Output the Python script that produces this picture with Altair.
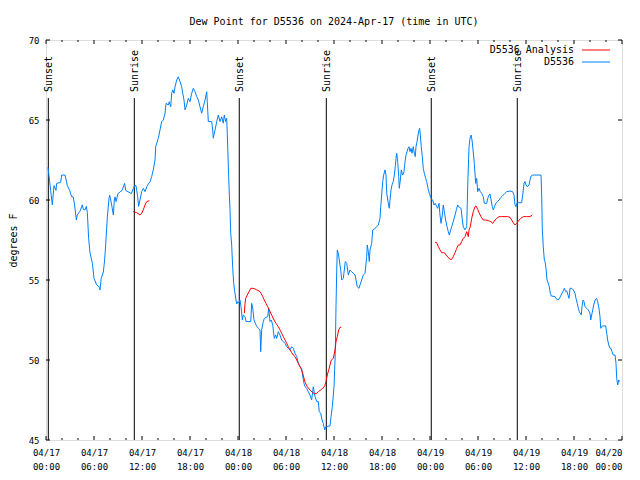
import altair as alt
import pandas as pd

FONT = "DejaVu Sans Mono"
TITLE = "Dew Point for D5536 on 2024-Apr-17 (time in UTC)"

# hours since 2024-04-17 00:00 UTC
blue_hours = [0.25, 0.46, 0.58, 0.79, 1.0, 1.25, 1.33, 1.83, 1.96, 2.38, 2.67, 2.96, 3.2, 3.4, 3.54, 3.8, 3.9, 4.25, 4.54, 4.67,
              4.9, 5.04, 5.17, 5.33, 5.5, 5.8, 6.0, 6.33, 6.63, 6.75, 6.9, 7.17, 7.33, 7.46, 7.67, 7.88, 7.96, 8.17, 8.42, 8.54,
              8.63, 8.75, 9.0, 9.5, 9.83, 9.96, 10.67, 10.9, 11.08, 11.25, 11.46, 11.58, 11.96, 12.16, 12.38, 12.59, 12.79, 13.0, 13.21, 13.41,
              13.63, 13.71, 14.04, 14.25, 14.46, 14.66, 14.88, 15.0, 15.29, 15.41, 15.59, 15.71, 15.84, 16.0, 16.13, 16.34, 16.54, 16.75, 16.96, 17.09,
              17.25, 17.38, 17.59, 17.79, 18.0, 18.21, 18.41, 18.63, 18.84, 19.04, 19.25, 19.46, 19.66, 19.88, 20.09, 20.16, 20.29, 20.71, 20.84, 20.91,
              21.13, 21.34, 21.54, 21.75, 21.96, 22.16, 22.29, 22.46, 22.59, 22.66, 22.79, 22.91, 23.0, 23.09, 23.21, 23.34, 23.46, 23.59, 23.75, 23.84,
              23.96, 24.13, 24.25, 24.38, 24.54, 24.66, 24.88, 25.0, 25.59, 25.71, 25.84, 26.0, 26.25, 26.54, 26.75, 26.84, 26.96, 27.16, 27.29, 27.71,
              27.84, 28.0, 28.16, 28.34, 28.41, 28.54, 28.71, 28.84, 29.04, 29.25, 29.46, 29.66, 29.88, 30.09, 30.29, 30.5, 30.71, 30.91, 31.13, 31.34,
              31.54, 31.75, 31.96, 32.09, 32.25, 32.38, 32.59, 32.79, 33.0, 33.21, 33.41, 33.63, 33.84, 34.04, 34.16, 34.34, 34.5, 34.66, 34.84, 34.96,
              35.5, 35.63, 35.79, 36.0, 36.16, 36.25, 36.34, 36.41, 36.54, 36.66, 36.84, 36.96, 37.16, 37.29, 37.41, 37.59, 37.79, 38.0, 38.21, 38.63,
              38.75, 38.91, 39.13, 39.25, 39.46, 39.66, 39.88, 40.09, 40.16, 40.29, 40.41, 40.5, 40.71, 40.84, 41.04, 41.34, 41.54, 41.75, 41.84, 41.96,
              42.09, 42.21, 42.38, 42.5, 42.59, 42.79, 42.91, 43.0, 43.13, 43.25, 43.41, 43.54, 43.66, 43.75, 43.84, 43.96, 44.09, 44.16, 44.29, 44.41,
              44.59, 44.75, 44.88, 45.0, 45.13, 45.25, 45.38, 45.5, 45.63, 45.75, 45.91, 46.04, 46.16, 46.25, 46.38, 46.5, 46.63, 46.71, 46.79, 46.91,
              47.04, 47.16, 47.29, 47.46, 47.59, 47.75, 47.91, 48.13, 48.34, 48.5, 48.66, 48.84, 48.96, 49.13, 49.25, 49.38, 49.54, 49.66, 49.79, 49.96,
              50.13, 50.29, 50.41, 50.59, 50.71, 50.91, 51.13, 51.34, 51.46, 51.66, 51.88, 52.04, 52.16, 52.38, 52.59, 52.66, 52.75, 52.88, 53.0, 53.13,
              53.25, 53.38, 53.54, 53.71, 53.84, 53.96, 54.13, 54.29, 54.46, 54.66, 54.79, 55.09, 55.21, 55.38, 55.5, 55.63, 55.79, 55.91, 56.04, 56.21,
              56.46, 56.63, 56.88, 57.04, 57.38, 57.59, 58.0, 58.34, 58.5, 58.63, 58.75, 58.91, 59.46, 59.59, 59.75, 59.88, 60.0, 60.16, 60.38, 60.5,
              60.63, 60.84, 61.88, 61.96, 62.04, 62.16, 62.29, 62.38, 62.5, 62.63, 62.79, 62.91, 63.04, 63.16, 63.63, 63.84, 64.04, 64.25, 64.46, 64.66,
              64.79, 64.96, 65.09, 65.25, 65.38, 65.5, 65.71, 65.91, 66.13, 66.25, 66.41, 66.54, 66.66, 66.91, 67.0, 67.13, 67.25, 67.38, 67.59, 67.79,
              68.0, 68.09, 68.21, 68.34, 68.46, 68.63, 68.84, 68.96, 69.09, 69.25, 69.34, 69.54, 69.96, 70.09, 70.21, 70.34, 70.5, 70.63, 70.75, 70.91,
              71.13, 71.25, 71.34, 71.46, 71.59, 71.71]
blue_dewpt = [62.04, 61.15, 60.6, 59.7, 60.9, 60.6, 61.04, 61.1, 61.56, 61.56, 60.9, 60.6, 60.2, 60.2, 59.8, 58.75, 59.06, 59.3, 59.7, 59.4,
              59.4, 59.6, 59.2, 57.6, 56.7, 56.04, 55.1, 54.7, 54.58, 54.38, 55.1, 55.5, 56.25, 57.2, 58.96, 60.1, 60.3, 59.8, 59.06, 60.0,
              60.2, 59.9, 60.4, 60.6, 61.04, 60.6, 60.4, 60.7, 60.9, 60.9, 60.2, 59.6, 60.52, 60.73, 60.52, 60.83, 61.0, 61.14, 61.46, 61.88,
              62.5, 63.33, 63.86, 64.38, 64.9, 65.0, 65.42, 66.04, 65.94, 66.14, 65.83, 66.67, 66.88, 66.67, 67.08, 67.5, 67.7, 67.4, 67.08, 66.67,
              66.25, 65.63, 65.94, 66.35, 66.14, 66.67, 66.98, 66.77, 66.46, 66.25, 65.83, 65.42, 65.83, 66.25, 66.77, 66.14, 64.9, 64.9, 64.38, 63.86,
              64.38, 64.9, 65.31, 64.9, 65.2, 64.8, 65.31, 64.9, 65.1, 64.17, 62.08, 60.42, 59.38, 57.92, 57.19, 55.73, 54.79, 54.27, 53.75, 53.5,
              53.64, 53.58, 53.75, 53.33, 52.5, 52.81, 52.71, 52.4, 52.4, 53.54, 53.23, 52.5, 52.19, 51.98, 51.88, 50.52, 51.88, 52.4, 52.6, 52.71,
              53.23, 52.4, 52.5, 52.19, 51.88, 51.35, 51.56, 51.35, 51.77, 51.56, 51.25, 51.15, 51.04, 50.83, 50.73, 50.63, 50.83, 50.73, 50.42, 50.21,
              49.79, 49.58, 49.48, 48.96, 48.54, 48.33, 48.23, 48.02, 47.81, 47.5, 48.33, 47.71, 47.4, 47.4, 46.77, 46.67, 46.25, 46.04, 45.63, 45.83,
              45.88, 46.46, 47.08, 48.33, 50.42, 53.33, 55.63, 56.88, 56.67, 56.25, 55.63, 55.0, 55.1, 55.63, 56.15, 56.04, 55.31, 55.63, 55.52, 55.31,
              55.0, 54.58, 54.48, 54.69, 55.0, 55.31, 55.42, 56.46, 57.19, 56.77, 56.15, 56.88, 57.29, 58.13, 58.19, 58.33, 58.44, 58.85, 59.58, 60.31,
              61.15, 61.56, 61.88, 61.56, 60.42, 59.79, 59.48, 60.0, 60.63, 60.94, 61.15, 61.56, 62.08, 62.6, 62.92, 62.4, 61.46, 60.73, 61.25, 61.88,
              61.56, 61.77, 62.4, 62.81, 63.02, 63.23, 63.33, 63.02, 63.23, 62.92, 63.33, 62.92, 62.71, 63.33, 63.65, 64.06, 64.38, 64.48, 64.06, 63.33,
              62.71, 61.98, 61.67, 61.35, 61.15, 60.73, 60.42, 60.1, 60.0, 59.69, 59.79, 59.58, 59.48, 59.79, 59.06, 58.54, 59.06, 59.69, 59.27, 58.75,
              58.33, 58.02, 57.81, 58.13, 58.33, 58.65, 59.06, 59.48, 59.69, 59.54, 59.48, 58.75, 58.33, 58.13, 58.33, 59.79, 61.46, 63.33, 63.86, 64.06,
              63.75, 63.13, 62.29, 61.04, 61.35, 60.52, 60.73, 60.52, 60.42, 60.21, 59.79, 59.79, 60.1, 60.31, 60.38, 60.0, 59.58, 59.38, 59.54, 59.79,
              59.9, 60.0, 60.17, 60.25, 60.42, 60.52, 60.56, 60.52, 60.31, 59.69, 59.58, 59.83, 59.83, 60.31, 61.04, 61.15, 60.94, 60.83, 60.94, 61.25,
              61.5, 61.56, 61.56, 60.31, 58.13, 57.08, 56.25, 56.15, 55.73, 55.0, 54.79, 54.58, 54.17, 54.0, 53.96, 53.79, 53.75, 53.92, 54.13, 54.33,
              54.48, 54.27, 54.33, 54.06, 53.85, 54.48, 54.48, 54.38, 54.17, 53.85, 53.54, 53.23, 53.02, 52.81, 53.33, 53.75, 53.65, 53.33, 53.23, 53.13,
              52.92, 52.5, 52.81, 53.13, 53.44, 53.75, 53.85, 53.65, 53.33, 52.71, 51.98, 52.13, 52.13, 51.67, 51.25, 50.94, 50.73, 50.73, 50.52, 50.31,
              50.31, 49.79, 48.85, 48.44, 48.75, 48.65]

red_hours = [10.91, 11.34, 11.75, 11.96, 12.16, 12.38, 12.59, 12.91,
             24.79, 24.88, 24.96, 25.16, 25.38, 25.59, 25.84, 26.13, 26.34, 26.66, 26.88, 27.09, 27.29, 27.5, 27.71, 27.91,
             28.21, 28.5, 28.75, 29.04, 29.25, 29.46, 29.66, 29.88, 30.09, 30.29, 30.5, 30.71, 30.91, 31.13, 31.34, 31.54,
             31.75, 31.96, 32.09, 32.25, 32.41, 32.66, 33.0, 33.34, 33.63, 33.84, 34.04, 34.34, 34.59, 34.84, 35.0, 35.16,
             35.34, 35.5, 35.66, 35.91, 36.13, 36.25, 36.41, 36.59, 36.75, 36.91,
             48.63, 48.84, 49.04, 49.25, 49.46, 49.66, 49.88, 50.09, 50.29, 50.5, 50.71, 50.91, 51.13, 51.34, 51.54, 51.75,
             51.96, 52.16, 52.38, 52.59, 52.79, 52.88, 53.04, 53.21, 53.41, 53.63, 53.75, 53.96, 54.13, 54.38, 54.66, 54.96,
             55.29, 55.59, 55.84, 56.13, 56.34, 56.63, 56.96, 57.38, 57.71, 58.0, 58.21, 58.41, 58.63, 58.84, 59.04, 59.34,
             59.66, 60.09, 60.5, 60.79]
red_dewpt = [59.27, 59.21, 59.06, 59.17, 59.38, 59.69, 59.9, 59.96,
             52.92, 53.54, 53.85, 54.06, 54.27, 54.48, 54.48, 54.44, 54.38, 54.31, 54.17, 53.96, 53.75, 53.54, 53.33, 53.13,
             52.81, 52.5, 52.29, 52.08, 51.88, 51.67, 51.46, 51.25, 51.04, 50.83, 50.63, 50.46, 50.31, 50.21, 50.0, 49.79,
             49.58, 49.38, 49.17, 48.85, 48.58, 48.33, 48.13, 47.96, 47.88, 47.92, 48.02, 48.13, 48.23, 48.38, 48.65, 49.06,
             49.38, 49.69, 50.0, 50.1, 50.63, 51.15, 51.46, 51.88, 52.04, 52.04,
             57.36, 57.33, 57.08, 56.88, 56.71, 56.71, 56.67, 56.5, 56.42, 56.29, 56.29, 56.46, 56.71, 56.98, 57.19, 57.19,
             57.4, 57.6, 57.71, 58.02, 57.71, 58.13, 58.33, 58.85, 59.27, 59.58, 59.63, 59.42, 59.21, 58.96, 58.75, 58.75,
             58.71, 58.65, 58.54, 58.75, 58.85, 58.96, 58.96, 58.96, 58.96, 58.92, 58.75, 58.58, 58.44, 58.54, 58.69, 58.85,
             58.96, 58.96, 58.96, 59.06]
red_segment = [1] * 8 + [2] * 58 + [3] * 52

sun_hours = [0.29, 11.04, 24.16, 35.04, 48.16, 58.91]
sun_labels = ["Sunset", "Sunrise", "Sunset", "Sunrise", "Sunset", "Sunrise"]

x_label_hours = [0, 6, 12, 18, 24, 30, 36, 42, 48, 54, 60, 66, 72]
x_tick_hours = list(range(0, 73, 2))
y_ticks = [45, 50, 55, 60, 65, 70]

legend_labels = ["D5536 Analysis", "D5536"]
legend_colors = ["#ff0000", "#0080ff"]

W, H = 576, 400

blue_df = pd.DataFrame({"h": blue_hours, "v": blue_dewpt, "i": range(len(blue_hours))})
red_df = pd.DataFrame({"h": red_hours, "v": red_dewpt, "seg": red_segment[:len(red_hours)], "i": range(len(red_hours))})
sun_df = pd.DataFrame({"h": sun_hours, "label": sun_labels})
xt_df = pd.DataFrame({"h": x_tick_hours, "major": [h % 6 == 0 for h in x_tick_hours]})
yt_df = pd.DataFrame({"v": y_ticks})

xscale = alt.Scale(domain=[0, 72], nice=False, zero=False)
yscale = alt.Scale(domain=[45, 70], nice=False, zero=False)

label_expr = ("['04/' + (17 + floor(datum.value / 24)), "
              "(datum.value % 24 < 10 ? '0' : '') + (datum.value % 24) + ':00']")

xaxis = alt.Axis(values=x_label_hours, labelExpr=label_expr, ticks=False, domain=False, grid=False,
                 labelFont=FONT, labelFontSize=9, labelPadding=8, labelLineHeight=14,
                 labelAlign=alt.condition("datum.value >= 72", alt.value("right"), alt.value("center")),
                 labelBaseline="top", labelFlush=False, labelOverlap=False, labelColor="black", title=None)
yaxis = alt.Axis(values=y_ticks, ticks=False, domain=False, grid=False, labelFont=FONT, labelFontSize=9,
                 labelPadding=7, labelColor="black", title="degrees F", titleFont=FONT, titleFontSize=10,
                 titleFontWeight="normal", titleX=-33, titleY=200, titleAngle=270, titleAlign="center",
                 titleBaseline="middle", titleColor="black")

sun_rules = alt.Chart(sun_df).mark_rule(color="black", strokeWidth=1).encode(
    x=alt.X("h:Q", scale=xscale, axis=xaxis), y=alt.value(58), y2=alt.value(H))
sun_text = alt.Chart(sun_df).mark_text(angle=270, align="left", baseline="middle", font=FONT,
                                       fontSize=10, color="black", dx=0, dy=1).encode(
    x=alt.X("h:Q", scale=xscale), y=alt.value(52), text="label:N")

blue = alt.Chart(blue_df).mark_line(color="#0080ff", strokeWidth=1).encode(
    x=alt.X("h:Q", scale=xscale), y=alt.Y("v:Q", scale=yscale, axis=yaxis), order="i:Q")
red = alt.Chart(red_df).mark_line(color="#ff0000", strokeWidth=1).encode(
    x=alt.X("h:Q", scale=xscale), y=alt.Y("v:Q", scale=yscale), detail="seg:N", order="i:Q")

xt_major = xt_df[xt_df["major"]]
xt_minor = xt_df[~xt_df["major"]]
ticks = [
    alt.Chart(xt_major).mark_rule(color="black").encode(x=alt.X("h:Q", scale=xscale), y=alt.value(H - 4), y2=alt.value(H)),
    alt.Chart(xt_minor).mark_rule(color="black").encode(x=alt.X("h:Q", scale=xscale), y=alt.value(H - 2), y2=alt.value(H)),
    alt.Chart(xt_major).mark_rule(color="black").encode(x=alt.X("h:Q", scale=xscale), y=alt.value(0), y2=alt.value(4)),
    alt.Chart(xt_minor).mark_rule(color="black").encode(x=alt.X("h:Q", scale=xscale), y=alt.value(0), y2=alt.value(2)),
    alt.Chart(yt_df).mark_rule(color="black").encode(y=alt.Y("v:Q", scale=yscale), x=alt.value(0), x2=alt.value(4)),
    alt.Chart(yt_df).mark_rule(color="black").encode(y=alt.Y("v:Q", scale=yscale), x=alt.value(W - 4), x2=alt.value(W)),
]

legend_layers = []
for k, (lab, col) in enumerate(zip(legend_labels, legend_colors)):
    ly = 10 + 12 * k
    legend_layers.append(alt.Chart(pd.DataFrame({"label": [lab]})).mark_text(
        align="right", baseline="middle", font=FONT, fontSize=10, color="black").encode(
        text="label:N", x=alt.value(528), y=alt.value(ly)))
    legend_layers.append(alt.Chart(pd.DataFrame({"label": [lab]})).mark_rule(color=col, strokeWidth=1).encode(
        x=alt.value(536), x2=alt.value(564), y=alt.value(ly)))

chart = alt.layer(sun_rules, sun_text, blue, red, *ticks, *legend_layers).properties(
    width=W, height=H,
    title=alt.TitleParams(TITLE, font=FONT, fontSize=10, fontWeight="normal", anchor="middle",
                          color="black", offset=9),
    autosize=alt.AutoSizeParams(type="none"),
    padding={"left": 38, "top": 32, "right": 10, "bottom": 32},
).configure_view(stroke="black", strokeWidth=1).configure(background="white")

chart.save("out.html", embed_options={"renderer": "svg", "actions": False})
